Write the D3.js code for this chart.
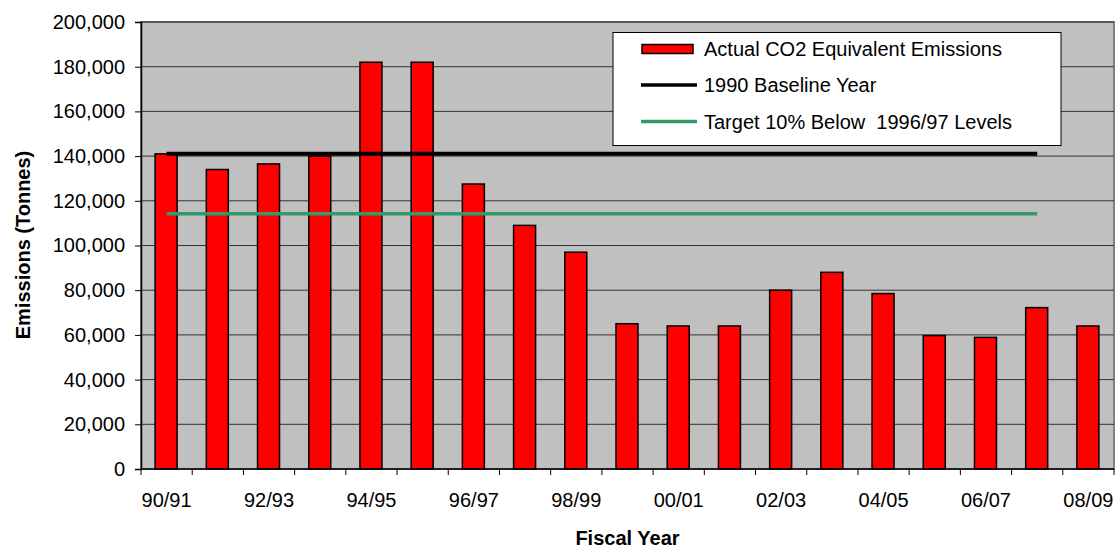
<!DOCTYPE html>
<html>
<head>
<meta charset="utf-8">
<script src="https://cdn.jsdelivr.net/npm/d3@7"></script>
<style>
  html, body { margin: 0; padding: 0; background: #ffffff; }
  svg { display: block; font-family: Arial, "Liberation Sans", sans-serif; }
</style>
</head>
<body>
<svg id="chart" width="1119" height="552"></svg>
<script>
const categories = ["90/91","91/92","92/93","93/94","94/95","95/96","96/97","97/98","98/99","99/00",
                    "00/01","01/02","02/03","03/04","04/05","05/06","06/07","07/08","08/09"];
const emissions = [141000,134000,136500,140000,182000,182000,127500,109000,97000,65000,
                   64000,64000,80000,88000,78500,59700,58900,72200,64000];
const baselineCats = categories.slice(0, 18);
const baseline = Array(18).fill(141000);
const target = Array(18).fill(114200);
const yTicks = [0,20000,40000,60000,80000,100000,120000,140000,160000,180000,200000];
const xLabelCats = ["90/91","92/93","94/95","96/97","98/99","00/01","02/03","04/05","06/07","08/09"];
const legendLabels = ["Actual CO2 Equivalent Emissions","1990 Baseline Year","Target 10% Below  1996/97 Levels"];

const svg = d3.select("#chart");
const L = 141, R = 1114, T = 22, B = 469;

const x = d3.scaleBand().domain(categories).range([L, R]).padding(0);
const y = d3.scaleLinear().domain([0, 200000]).range([B, T]);

// plot background
svg.append("rect").attr("x", L).attr("y", T).attr("width", R - L).attr("height", B - T)
  .attr("fill", "#c0c0c0").attr("stroke", "#808080").attr("stroke-width", 2);

// gridlines
svg.append("g").selectAll("line").data(yTicks.filter(d => d > 0)).join("line")
  .attr("x1", L).attr("x2", R).attr("y1", d => y(d)).attr("y2", d => y(d))
  .attr("stroke", "#333333").attr("stroke-width", 1);

// bars
svg.append("g").selectAll("rect").data(emissions).join("rect")
  .attr("x", (d, i) => x(categories[i]) + (x.bandwidth() - 22) / 2 - 0.5)
  .attr("width", 22)
  .attr("y", d => y(d))
  .attr("height", d => B - y(d))
  .attr("fill", "#ff0000").attr("stroke", "#000000").attr("stroke-width", 1.5);

// lines
const line = d3.line().x((d, i) => x(baselineCats[i]) + x.bandwidth() / 2).y(d => y(d));
svg.append("path").datum(target).attr("d", line).attr("fill", "none")
  .attr("stroke", "#339966").attr("stroke-width", 3.5);
svg.append("path").datum(baseline).attr("d", line).attr("fill", "none")
  .attr("stroke", "#000000").attr("stroke-width", 4);

// y axis
const yAxis = d3.axisLeft(y).tickValues(yTicks).tickSize(6).tickPadding(10)
  .tickFormat(d3.format(","));
const gy = svg.append("g").attr("transform", `translate(${L},0)`).call(yAxis);
gy.select(".domain").attr("stroke", "#000").attr("stroke-width", 1.5);
gy.selectAll(".tick line").attr("stroke", "#000");
gy.selectAll("text").attr("font-size", 20).attr("fill", "#000")
  .attr("font-family", "Arial, 'Liberation Sans', sans-serif");

// x axis: ticks at band boundaries
const boundaries = categories.map(c => x(c)).concat([R]);
const gx = svg.append("g");
gx.append("line").attr("x1", L).attr("x2", R).attr("y1", B).attr("y2", B)
  .attr("stroke", "#000").attr("stroke-width", 1.5);
gx.selectAll("line.t").data(boundaries).join("line").attr("class", "t")
  .attr("x1", d => d).attr("x2", d => d).attr("y1", B).attr("y2", B + 6)
  .attr("stroke", "#000").attr("stroke-width", 1);
gx.selectAll("text").data(xLabelCats).join("text")
  .attr("x", d => x(d) + x.bandwidth() / 2).attr("y", 507)
  .attr("text-anchor", "middle").attr("font-size", 20).attr("fill", "#000")
  .text(d => d);

// axis titles
svg.append("text").attr("x", 627.5).attr("y", 545).attr("text-anchor", "middle")
  .attr("font-size", 20).attr("font-weight", "bold").text("Fiscal Year");
svg.append("text").attr("transform", "translate(30,245) rotate(-90)")
  .attr("text-anchor", "middle").attr("font-size", 20).attr("font-weight", "bold")
  .text("Emissions (Tonnes)");

// legend
const lg = svg.append("g");
lg.append("rect").attr("x", 613).attr("y", 32.5).attr("width", 448).attr("height", 113)
  .attr("fill", "#ffffff").attr("stroke", "#000").attr("stroke-width", 1);
const rowY = [48.5, 85, 121.5];
lg.append("rect").attr("x", 642).attr("y", rowY[0] - 4).attr("width", 51).attr("height", 9)
  .attr("fill", "#ff0000").attr("stroke", "#000").attr("stroke-width", 1.5);
lg.append("line").attr("x1", 641).attr("x2", 697).attr("y1", rowY[1]).attr("y2", rowY[1])
  .attr("stroke", "#000").attr("stroke-width", 3.5);
lg.append("line").attr("x1", 641).attr("x2", 697).attr("y1", rowY[2]).attr("y2", rowY[2])
  .attr("stroke", "#339966").attr("stroke-width", 3.5);
lg.selectAll("text").data(legendLabels).join("text")
  .attr("x", 704).attr("y", (d, i) => rowY[i] + 7).attr("font-size", 20)
  .attr("fill", "#000").style("white-space", "pre").text(d => d);
</script>
</body>
</html>
